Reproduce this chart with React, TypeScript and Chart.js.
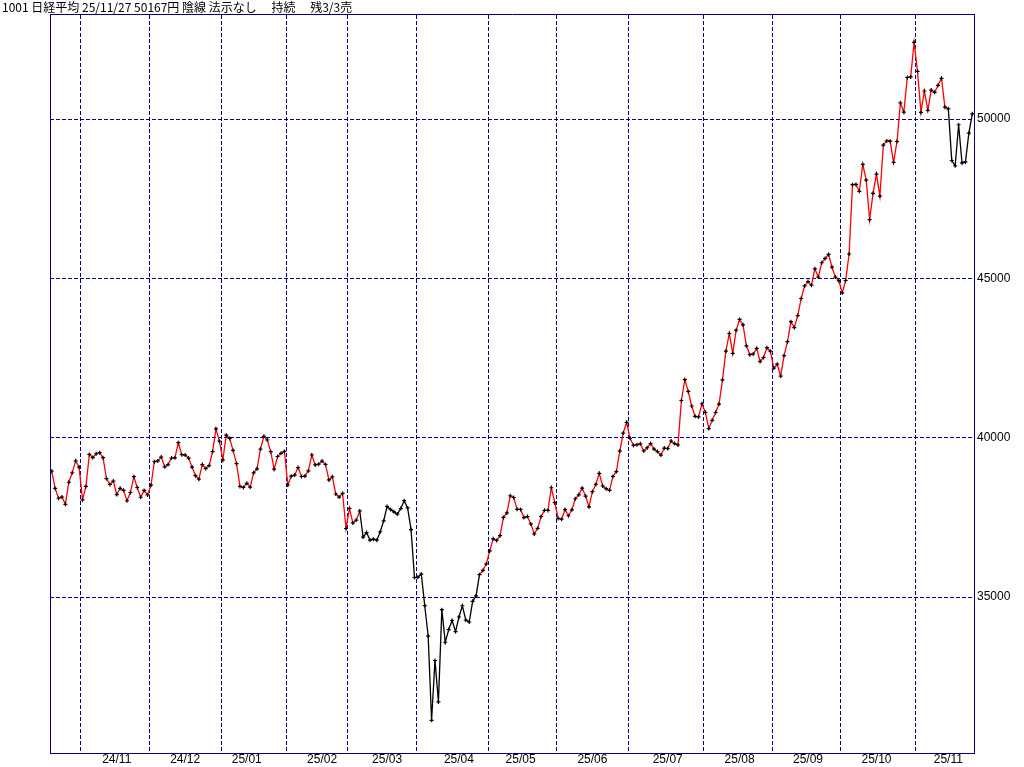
import React, { useEffect, useRef } from 'react';
import { Chart, registerables } from 'chart.js';

Chart.register(...registerables);

const titleText = '1001 日経平均 25/11/27 50167円 陰線 法示なし　 持続　 残3/3売';

// trading days per month: Oct 2024 (from the 21st) ... Nov 2025 (to the 27th)
const tradingDaysPerMonth = [9, 20, 21, 19, 18, 20, 21, 20, 21, 22, 20, 20, 22, 17];
const monthLabels = ['24/11', '24/12', '25/01', '25/02', '25/03', '25/04', '25/05', '25/06', '25/07', '25/08', '25/09', '25/10', '25/11'];
const monthLabelAt = [19, 39, 57, 79, 98, 119, 137, 158, 180, 201, 221, 241, 262];
const yTicks = [35000, 40000, 45000, 50000];

const closes2024Oct = [38954.6, 38411.96, 38104.86, 38143.29, 37913.92, 38605.53, 38903.68, 39277.39, 39081.25];
const closes2024Nov = [38053.67, 38474.9, 39480.67, 39381.41, 39500.37, 39533.32, 39376.09, 38721.66, 38535.7, 38642.91, 38220.85, 38414.43, 38352.34, 38026.17, 38283.85, 38780.14, 38442.0, 38134.97, 38349.06, 38208.03];
const closes2024Dec = [38513.02, 39248.86, 39276.39, 39395.6, 39091.17, 39160.5, 39367.58, 39372.23, 39849.14, 39470.44, 39457.49, 39364.68, 39081.71, 38813.58, 38701.9, 39161.34, 39036.85, 39130.43, 39568.06, 40281.16, 39894.54];
const closes2025Jan = [39307.05, 40083.3, 39981.06, 39605.09, 39190.4, 38474.3, 38444.58, 38572.6, 38451.46, 38902.5, 39027.98, 39646.25, 40048.8, 39931.98, 39565.8, 39016.87, 39414.78, 39513.97, 39572.49];
const closes2025Feb = [38520.09, 38798.37, 38831.48, 39066.53, 38787.02, 38801.17, 38963.7, 39461.47, 39149.43, 39174.25, 39270.4, 39164.61, 38678.04, 38776.94, 38237.79, 38142.37, 38256.17, 37155.5];
const closes2025Mar = [37785.47, 37331.18, 37418.24, 37704.93, 36887.17, 37028.27, 36793.11, 36819.09, 36790.03, 37053.1, 37396.52, 37845.42, 37751.88, 37677.06, 37608.49, 37780.54, 38027.29, 37799.97, 37120.33, 35617.56];
const closes2025Apr = [35624.48, 35725.87, 34735.93, 33780.58, 31136.58, 33012.58, 31714.03, 34609.0, 33585.58, 33982.36, 34267.54, 33920.4, 34377.6, 34730.28, 34279.92, 34220.6, 34868.63, 35039.15, 35705.74, 35839.99, 36045.38];
const closes2025May = [36452.3, 36830.69, 36779.66, 36928.63, 37503.33, 37644.26, 38183.26, 38128.13, 37755.51, 37753.72, 37498.63, 37529.49, 37298.98, 36985.87, 37160.47, 37531.53, 37724.11, 37722.4, 38432.98, 37965.1];
const closes2025Jun = [37470.67, 37446.81, 37747.45, 37554.49, 37741.61, 38088.57, 38211.51, 38421.19, 38173.09, 37834.25, 38311.33, 38536.74, 38885.15, 38488.34, 38403.23, 38354.09, 38790.56, 38942.07, 39584.58, 40150.79, 40487.39];
const closes2025Jul = [39986.33, 39762.48, 39785.9, 39810.88, 39587.68, 39688.81, 39821.28, 39646.36, 39569.68, 39459.62, 39678.02, 39663.4, 39901.19, 39819.11, 39774.92, 41171.32, 41826.34, 41456.23, 40998.27, 40674.55, 40654.7, 41069.82];
const closes2025Aug = [40799.6, 40290.7, 40549.54, 40794.86, 41059.15, 41820.48, 42718.17, 43274.67, 42649.26, 43378.31, 43714.31, 43546.29, 42888.55, 42610.17, 42633.29, 42807.82, 42394.4, 42520.27, 42828.79, 42718.47];
const closes2025Sep = [42188.79, 42310.49, 41938.89, 42580.27, 43018.75, 43643.81, 43459.29, 43837.67, 44372.5, 44768.12, 44902.27, 44790.38, 45303.43, 45045.81, 45493.66, 45630.31, 45754.93, 45354.99, 45043.75, 44932.63];
const closes2025Oct = [44550.85, 44936.73, 45769.5, 47944.76, 47950.88, 47734.99, 48580.44, 48088.8, 46847.32, 47672.67, 48277.74, 47582.15, 49185.5, 49316.06, 49307.79, 48641.61, 49299.65, 50512.32, 50219.18, 51307.65, 51325.61, 52411.34];
const closes2025Nov = [51497.2, 50212.27, 50883.68, 50276.37, 50911.76, 50842.93, 51063.31, 51281.83, 50376.53, 50323.91, 48702.98, 48537.7, 49823.94, 48625.88, 48659.52, 49559.07, 50167.1];

// index ranges [from, to) of segments drawn black (sell periods)
const sellRanges = [[90, 125], [262, 269]];

const closes = [
  ...closes2024Oct, ...closes2024Nov, ...closes2024Dec, ...closes2025Jan, ...closes2025Feb,
  ...closes2025Mar, ...closes2025Apr, ...closes2025May, ...closes2025Jun, ...closes2025Jul,
  ...closes2025Aug, ...closes2025Sep, ...closes2025Oct, ...closes2025Nov,
];

const NAVY = '#000080';
const GRID = '#00008c';
const LABEL_FONT = { family: "'Liberation Sans Narrow', 'Liberation Sans', sans-serif", size: 12, lineHeight: '14px' };

export default function App() {
  const ref = useRef<HTMLCanvasElement>(null);

  useEffect(() => {
    const monthStarts: number[] = [];
    let acc = 0;
    for (let m = 0; m < tradingDaysPerMonth.length - 1; m++) {
      acc += tradingDaysPerMonth[m];
      monthStarts.push(acc - 0.5);
    }
    const n = closes.length;
    const points = closes.map((y, x) => ({ x, y }));
    const isSell = (i: number) => sellRanges.some(([a, b]) => i >= a && i < b);

    const chart = new Chart(ref.current as HTMLCanvasElement, {
      type: 'line',
      data: {
        datasets: [
          {
            data: points,
            borderColor: '#ff0000',
            borderWidth: 1.3,
            tension: 0,
            segment: {
              borderColor: (ctx: any) => (isSell(ctx.p0DataIndex) ? '#000000' : '#ff0000'),
            },
            pointStyle: 'cross',
            pointRadius: 2,
            pointBorderColor: '#000000',
            pointBackgroundColor: '#000000',
            pointBorderWidth: 1.2,
            xAxisID: 'x',
            yAxisID: 'y',
          } as any,
        ],
      },
      options: {
        responsive: false,
        animation: false,
        devicePixelRatio: 1,
        events: [],
        layout: { padding: { left: 2, right: 0, top: 0, bottom: 0 } },
        plugins: {
          legend: { display: false },
          tooltip: { enabled: false },
          title: {
            display: true,
            text: titleText,
            align: 'start',
            color: '#000000',
            padding: 0,
            font: { family: "'Noto Sans CJK JP', sans-serif", size: 12, weight: 'normal', lineHeight: '14px' },
          },
        },
        scales: {
          x: {
            type: 'linear',
            position: 'bottom',
            min: -0.5,
            max: n - 0.5,
            grid: { display: false, drawTicks: false },
            border: { display: true, color: NAVY, width: 1 },
            afterBuildTicks: (s: any) => {
              s.ticks = monthLabelAt.map((v) => ({ value: v }));
            },
            ticks: {
              autoSkip: false,
              maxRotation: 0,
              minRotation: 0,
              padding: 0,
              color: '#000000',
              font: LABEL_FONT,
              callback: (_v: any, i: number) => monthLabels[i],
            },
          },
          xm: {
            type: 'linear',
            position: 'top',
            min: -0.5,
            max: n - 0.5,
            grid: { display: true, color: GRID, lineWidth: 1, drawTicks: false },
            border: { display: true, color: NAVY, width: 1, dash: [4, 2] },
            ticks: { display: false },
            afterBuildTicks: (s: any) => {
              s.ticks = monthStarts.map((v) => ({ value: v }));
            },
          },
          y: {
            type: 'linear',
            position: 'right',
            min: 30110,
            max: 53300,
            afterFit: (s: any) => {
              s.width = 50;
            },
            afterBuildTicks: (s: any) => {
              s.ticks = yTicks.map((v) => ({ value: v }));
            },
            grid: { display: true, color: GRID, lineWidth: 1, drawTicks: false },
            border: { display: true, color: NAVY, width: 1, dash: [4, 2] },
            ticks: {
              padding: 3,
              color: '#000000',
              font: LABEL_FONT,
              callback: (v: any) => String(v),
            },
          },
          yl: {
            type: 'linear',
            position: 'left',
            afterFit: (s: any) => {
              s.width = 48;
            },
            grid: { display: false, drawTicks: false },
            border: { display: true, color: NAVY, width: 1 },
            ticks: { display: false },
          },
        },
      } as any,
    });
    return () => chart.destroy();
  }, []);

  return (
    <div style={{ position: 'fixed', left: 0, top: 0, width: 1024, height: 767, background: '#ffffff' }}>
      <canvas ref={ref} width={1024} height={767} style={{ display: 'block' }} />
    </div>
  );
}
